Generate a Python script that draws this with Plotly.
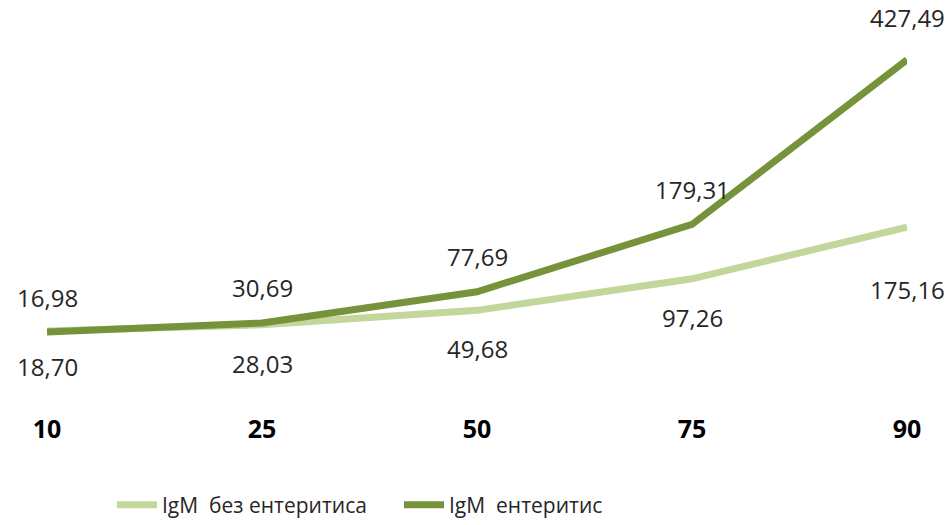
import plotly.graph_objects as go

categories = ["10", "25", "50", "75", "90"]
igm_bez = [18.70, 28.03, 49.68, 97.26, 175.16]
igm_ent = [16.98, 30.69, 77.69, 179.31, 427.49]
name_bez = "IgM  без ентеритиса"
name_ent = "IgM  ентеритис"

light = "#C3D69B"
dark = "#76933C"
font_family = "Open Sans"

def fmt(v):
    return f"{v:.2f}".replace(".", ",")

fig = go.Figure()
fig.add_trace(go.Scatter(x=categories, y=igm_bez, mode="lines", name=name_bez,
                         line=dict(color=light, width=7), hoverinfo="skip"))
fig.add_trace(go.Scatter(x=categories, y=igm_ent, mode="lines", name=name_ent,
                         line=dict(color=dark, width=7), hoverinfo="skip"))

bez_shift = [-36, -39, -38, -39, -62]
ent_shift = [35, 35, 35, 35, 42]
for i, c in enumerate(categories):
    fig.add_annotation(x=i, y=igm_bez[i], text=fmt(igm_bez[i]), showarrow=False,
                       yshift=bez_shift[i], font=dict(size=24, color="#262626", family=font_family))
    fig.add_annotation(x=i, y=igm_ent[i], text=fmt(igm_ent[i]), showarrow=False,
                       yshift=ent_shift[i], font=dict(size=24, color="#262626", family=font_family))

fig.update_layout(
    width=952, height=525,
    margin=dict(l=47, r=45, t=10, b=115, autoexpand=False),
    paper_bgcolor="white", plot_bgcolor="white",
    font=dict(family=font_family, color="#000"),
    showlegend=True,
    legend=dict(orientation="h", x=112/952, xanchor="left", xref="container",
                y=20/525, yanchor="middle", yref="container",
                font=dict(size=21, color="#262626"), itemwidth=40,
                entrywidth=232, entrywidthmode="pixels",
                tracegroupgap=0),
    xaxis=dict(type="category", range=[0, 4], showgrid=False, zeroline=False, automargin=False,
               showline=False, ticks="", tickfont=dict(size=25, family=font_family, color="#000", weight="bold"),
               ticklabelstandoff=2),
    yaxis=dict(range=[-100.6, 502.7], visible=False, showgrid=False, zeroline=False, automargin=False),
)

fig.write_html("out.html", config={"displayModeBar": False},
               post_script="document.body.style.margin='0';")
